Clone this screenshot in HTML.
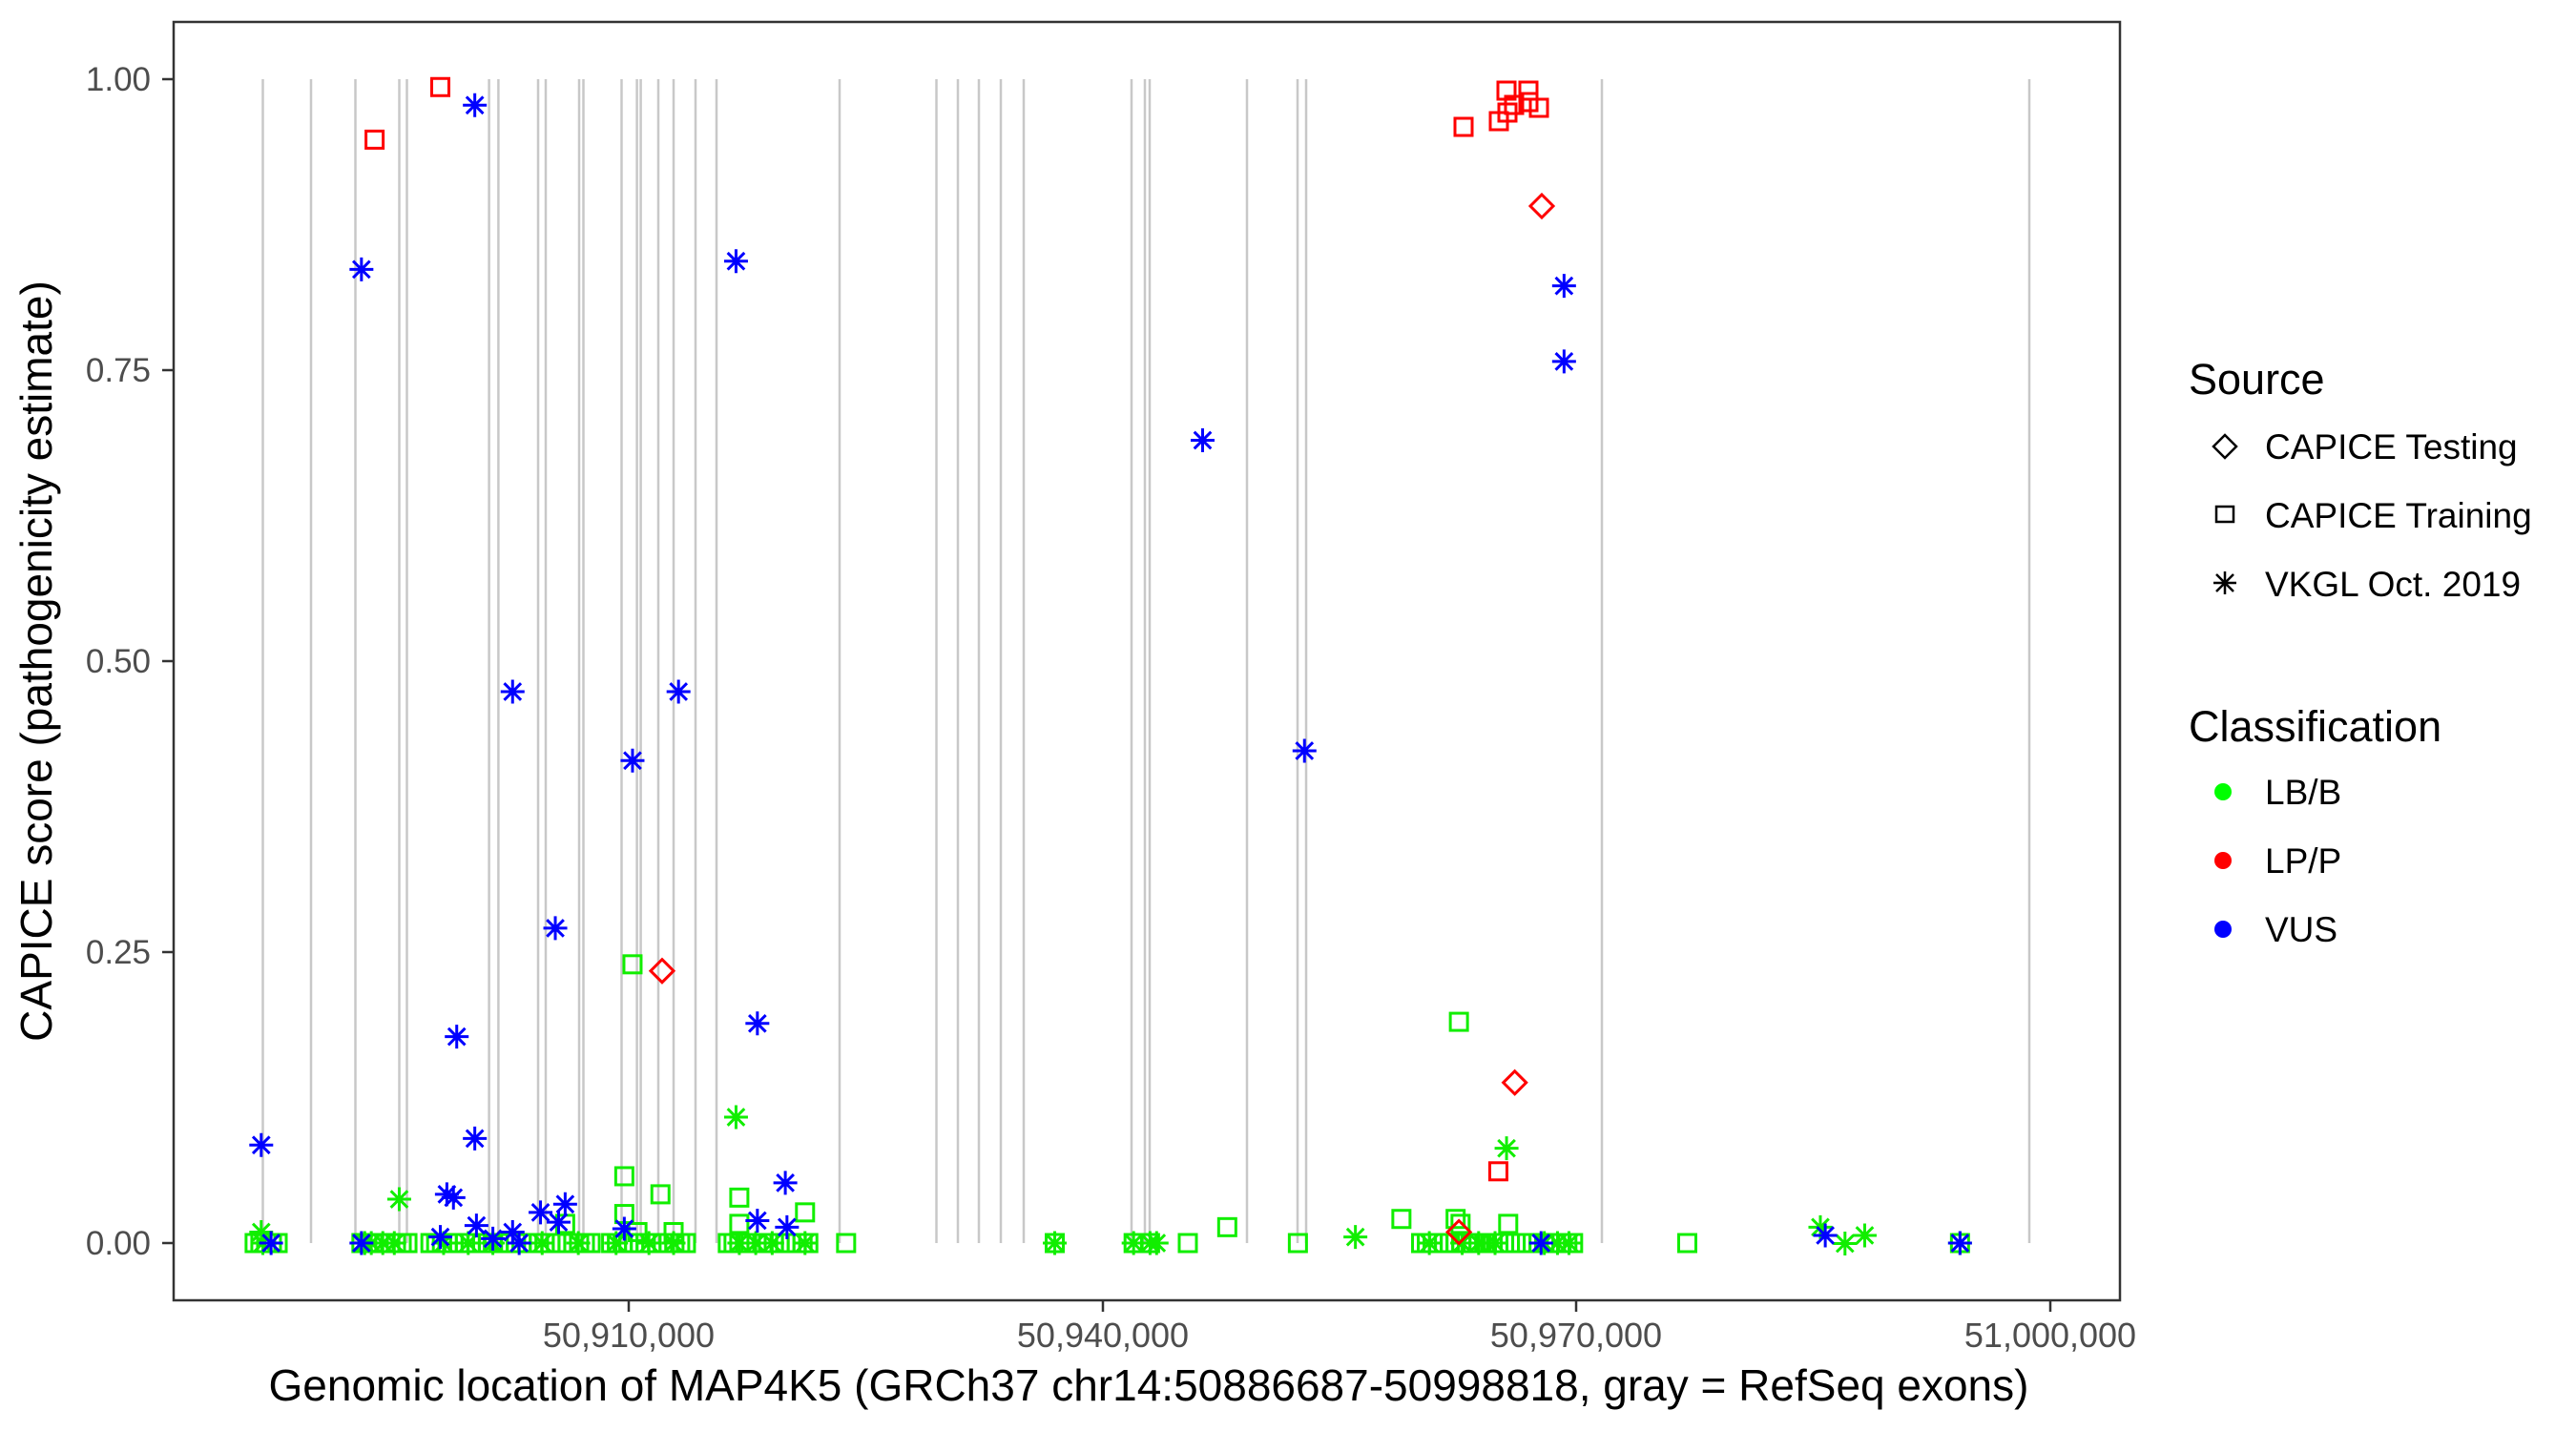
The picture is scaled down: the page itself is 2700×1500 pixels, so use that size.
<!DOCTYPE html>
<html><head><meta charset="utf-8"><style>
html,body{margin:0;padding:0;background:#fff;}
svg{display:block;font-family:"Liberation Sans",Arial,sans-serif;}
</style></head><body>
<svg id="s" width="2700" height="1500" viewBox="0 0 2700 1500" xmlns="http://www.w3.org/2000/svg">
<rect x="0" y="0" width="2700" height="1500" fill="#fff"/>
<g id="exons" stroke="#c8c8c8" stroke-width="2.5"></g>
<g id="pts" fill="none" stroke-width="3"></g>
<rect x="182" y="23" width="2040" height="1340" fill="none" stroke="#333" stroke-width="2.5"/>
<g stroke="#333" stroke-width="2.5">
<line x1="170" y1="83" x2="182" y2="83"/><line x1="170" y1="388" x2="182" y2="388"/><line x1="170" y1="693" x2="182" y2="693"/><line x1="170" y1="998" x2="182" y2="998"/><line x1="170" y1="1303" x2="182" y2="1303"/>
<line x1="659" y1="1363" x2="659" y2="1375"/><line x1="1156" y1="1363" x2="1156" y2="1375"/><line x1="1652" y1="1363" x2="1652" y2="1375"/><line x1="2149" y1="1363" x2="2149" y2="1375"/>
</g>
<g fill="#4d4d4d" font-size="35" text-anchor="end">
<text x="158" y="95">1.00</text><text x="158" y="400">0.75</text><text x="158" y="705">0.50</text><text x="158" y="1010">0.25</text><text x="158" y="1315">0.00</text>
</g>
<g fill="#4d4d4d" font-size="36" text-anchor="middle">
<text x="659" y="1412">50,910,000</text><text x="1156" y="1412">50,940,000</text><text x="1652" y="1412">50,970,000</text><text x="2149" y="1412">51,000,000</text>
</g>
<text x="1204" y="1468" font-size="46" text-anchor="middle" fill="#000">Genomic location of MAP4K5 (GRCh37 chr14:50886687-50998818, gray = RefSeq exons)</text>
<text transform="translate(54,693) rotate(-90)" font-size="46" text-anchor="middle" fill="#000">CAPICE score (pathogenicity estimate)</text>
<g fill="#000">
<text x="2294" y="413" font-size="45">Source</text>
<text x="2374" y="481" font-size="37">CAPICE Testing</text>
<text x="2374" y="553" font-size="37">CAPICE Training</text>
<text x="2374" y="625" font-size="37">VKGL Oct. 2019</text>
<text x="2294" y="777" font-size="45">Classification</text>
<text x="2374" y="843" font-size="37">LB/B</text>
<text x="2374" y="915" font-size="37">LP/P</text>
<text x="2374" y="987" font-size="37">VUS</text>
</g>
<g fill="none" stroke="#000" stroke-width="2.5">
<path d="M2332 456 L2344 468 L2332 480 L2320 468 Z"/>
<rect x="2323" y="531" width="18" height="16"/>
<path d="M2320 611 H2344 M2332 599 V623 M2323 602 L2341 620 M2341 602 L2323 620"/>
</g>
<circle cx="2330" cy="830" r="9" fill="#00ff00"/>
<circle cx="2330" cy="902" r="9" fill="#ff0000"/>
<circle cx="2330" cy="974" r="9" fill="#0000ff"/>
</svg>
<script>
var NS="http://www.w3.org/2000/svg";
var ex=[275.5,326,372.5,418.5,426.5,512.6,522.4,564,572,607,611.5,651.5,667.6,671.6,690,706,729,751,880,981.5,1004,1026,1049,1073,1186,1200,1205,1307,1360,1369,1679,2127];
var eg=document.getElementById('exons');
ex.forEach(function(x){var l=document.createElementNS(NS,'line');l.setAttribute('x1',x);l.setAttribute('x2',x);l.setAttribute('y1',83);l.setAttribute('y2',1303);eg.appendChild(l);});
var pg=document.getElementById('pts');
var C={g:'#11ee00',r:'#ff0000',b:'#0000ff'};
function el(t,a){var e=document.createElementNS(NS,t);for(var k in a)e.setAttribute(k,a[k]);pg.appendChild(e);}
function sq(x,y,c){el('rect',{x:x-9,y:y-9,width:18,height:18,stroke:C[c]});}
function di(x,y,c){el('path',{d:'M'+x+' '+(y-12)+' L'+(x+12)+' '+y+' L'+x+' '+(y+12)+' L'+(x-12)+' '+y+' Z',stroke:C[c]});}
function as(x,y,c){var r=12.5,d=8.8;el('path',{d:'M'+(x-r)+' '+y+' H'+(x+r)+' M'+x+' '+(y-r)+' V'+(y+r)+' M'+(x-d)+' '+(y-d)+' L'+(x+d)+' '+(y+d)+' M'+(x+d)+' '+(y-d)+' L'+(x-d)+' '+(y+d),stroke:C[c]});}
var k=1.722, Z=1303;
var ranges=[[155,170],[220,248],[262,300],[300,360],[372,420],[443,495],[865,905],[905,960]];
ranges.forEach(function(r){for(var x=r[0];x<=r[1];x+=3.5){sq(x*k,Z,'g');}});
[515,642,723,790,1027,1193,700,690].forEach(function(x){sq(x*k,Z,'g');});
[[385,587],[888,622],[380,716],[402,727],[450,729],[490,738],[380,739],[853,742],[747,747],[918,745],[450,745],[886,742],[889,745],[344,745],[388,750],[410,750]].forEach(function(p){sq(p[0]*k,p[1]*k,'g');});
[[448,680],[243,730],[917,699],[159,750],[1108,747],[1123,757],[1135,752],[825,753]].forEach(function(p){as(p[0]*k,p[1]*k,'g');});
[160,222,226,233,240,270,285,300,330,352,375,395,410,450,460,470,490,642,690,700,704,870,890,900,910,940,948,955,1193].forEach(function(x){as(x*k,Z,'g');});
[[1534,133],[1571,127],[1579,95],[1580,118],[1587,110],[1602,95],[1602,107],[1613,113]].forEach(function(p){sq(p[0],p[1],'r');});
[[228,85],[268,53],[912,713]].forEach(function(p){sq(p[0]*k,p[1]*k,'r');});
di(1616,216,'r');
[[403,591],[922,659],[888,750]].forEach(function(p){di(p[0]*k,p[1]*k,'r');});
[[220,164],[289,64],[448,159],[312,421],[413,421],[385,463],[338,565],[278,631],[461,623],[289,693],[159,697],[732,268],[794,457],[952,174],[952,220],[478,720],[272,727],[276,729],[329,738],[344,733],[312,750],[340,744],[290,746],[461,743],[479,747],[380,748],[1111,752],[268,753],[300,754]].forEach(function(p){as(p[0]*k,p[1]*k,'b');});
[165,220,316,938,1193].forEach(function(x){as(x*k,Z,'b');});
</script>
</body></html>
